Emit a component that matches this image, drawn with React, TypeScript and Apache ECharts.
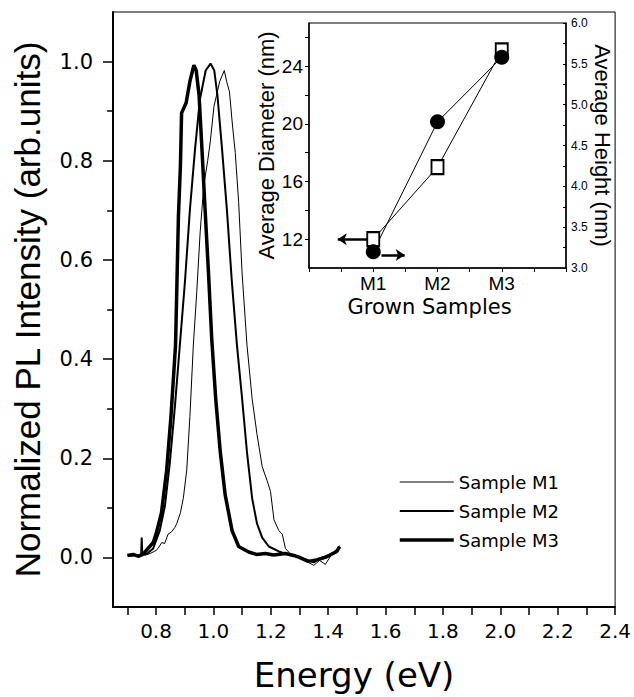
import React, { useEffect, useRef } from "react";
import * as echarts from "echarts";

// ---------- Data ----------
// Main PL spectra: [energy (eV), normalized intensity]
const sampleM1: [number, number][] = [
  [0.74, 0.002], [0.76, 0.004], [0.78, 0.008], [0.8, 0.014], [0.807, 0.018], [0.82, 0.03],
  [0.83, 0.028], [0.842, 0.047], [0.855, 0.052], [0.865, 0.06], [0.872, 0.068], [0.885, 0.09],
  [0.895, 0.119], [0.907, 0.176], [0.918, 0.284], [0.93, 0.428], [0.942, 0.536], [0.954, 0.658],
  [0.965, 0.74], [0.971, 0.767], [0.98, 0.8], [0.989, 0.838], [1.002, 0.91], [1.022, 0.96],
  [1.038, 0.982], [1.046, 0.96], [1.056, 0.939], [1.066, 0.874], [1.076, 0.817], [1.088, 0.716],
  [1.1, 0.572], [1.117, 0.428], [1.135, 0.32], [1.152, 0.248], [1.17, 0.183], [1.187, 0.155],
  [1.199, 0.133], [1.211, 0.076], [1.228, 0.054], [1.24, 0.047], [1.251, 0.018], [1.27, 0.006],
  [1.3, 0.002], [1.33, -0.01], [1.35, -0.016], [1.37, -0.006], [1.39, -0.014], [1.41, 0.004],
  [1.43, 0.014], [1.44, 0.024],
];
const sampleM2: [number, number][] = [
  [0.705, 0.003], [0.73, 0.005], [0.748, 0.004], [0.75, 0.04], [0.752, 0.006], [0.77, 0.008],
  [0.79, 0.018], [0.813, 0.054], [0.831, 0.104], [0.848, 0.19], [0.866, 0.306], [0.883, 0.428],
  [0.901, 0.558], [0.918, 0.701], [0.936, 0.824], [0.953, 0.924], [0.973, 0.982], [0.99, 0.996],
  [1.003, 0.982], [1.014, 0.932], [1.03, 0.824], [1.047, 0.701], [1.064, 0.558], [1.082, 0.428],
  [1.1, 0.32], [1.117, 0.212], [1.135, 0.119], [1.152, 0.068], [1.17, 0.04], [1.193, 0.022],
  [1.228, 0.012], [1.26, 0.006], [1.29, 0.002], [1.32, -0.004], [1.35, -0.01], [1.37, -0.002],
  [1.4, 0.004], [1.42, 0.01], [1.44, 0.02],
];
const sampleM3: [number, number][] = [
  [0.7, 0.004], [0.72, 0.006], [0.74, 0.002], [0.76, 0.01], [0.772, 0.018], [0.79, 0.03],
  [0.8, 0.047], [0.819, 0.09], [0.837, 0.176], [0.852, 0.284], [0.864, 0.392], [0.868, 0.428],
  [0.873, 0.558], [0.878, 0.687], [0.885, 0.79], [0.889, 0.896], [0.905, 0.917], [0.918, 0.96],
  [0.932, 0.993], [0.94, 0.982], [0.95, 0.932], [0.96, 0.824], [0.971, 0.701], [0.983, 0.572],
  [0.994, 0.442], [1.008, 0.32], [1.024, 0.212], [1.041, 0.126], [1.065, 0.054], [1.088, 0.022],
  [1.123, 0.011], [1.15, 0.006], [1.181, 0.008], [1.21, 0.005], [1.251, 0.008], [1.28, 0.004],
  [1.3, 0.0], [1.33, -0.008], [1.36, -0.005], [1.39, 0.0], [1.41, 0.006], [1.43, 0.012], [1.44, 0.022],
];

const seriesNames = ["Sample M1", "Sample M2", "Sample M3"];
const seriesWidths = [1, 2, 3.5];

// Tick labels of main chart
const xTickLabels = [0.8, 1.0, 1.2, 1.4, 1.6, 1.8, 2.0, 2.2, 2.4];
const xAllTicks = [0.7, 0.8, 0.9, 1.0, 1.1, 1.2, 1.3, 1.4, 1.5, 1.6, 1.7, 1.8, 1.9, 2.0, 2.1, 2.2, 2.3, 2.4];
const yTickLabels = [0.0, 0.2, 0.4, 0.6, 0.8, 1.0];
const yMinorTicks = [0.1, 0.3, 0.5, 0.7, 0.9];

// Inset data
const insetCategories = ["M1", "M2", "M3"];
const avgDiameter = [12.0, 17.0, 25.1]; // open squares, left axis (nm)
const avgHeight = [3.2, 4.79, 5.58]; // filled circles, right axis (nm)
const diameterTickLabels = [12, 16, 20, 24];
const diameterTicks = [12, 14, 16, 18, 20, 22, 24, 26];
// arrows: [x from, x to, y]
const diameterArrow = [0.914, 0.447, 12];
const heightArrow = [1.128, 1.49, 3.16];

const FONT = "'Liberation Sans', Arial, Helvetica, sans-serif";
const TRACK = "'DejaVu Sans', 'Liberation Sans', sans-serif";
const NARROW = "'Liberation Sans Narrow', 'Arial Narrow', 'Liberation Sans', sans-serif";
const BLACK = "#000";

const X_MIN = 0.65;
const X_MAX = 2.4;
const MAIN = { left: 113, right: 18, top: 12, bottom: 89 };
const W = 634;
const H = 697;
const MAIN_W = W - MAIN.left - MAIN.right;
const MAIN_H = H - MAIN.top - MAIN.bottom;

export default function App() {
  const ref = useRef<HTMLDivElement>(null);

  useEffect(() => {
    if (!ref.current) return;
    const chart = echarts.init(ref.current, undefined, { renderer: "svg" });

    const spectra = [sampleM1, sampleM2, sampleM3];

    const option: any = {
      animation: false,
      backgroundColor: "#fff",
      legend: {
        orient: "vertical",
        left: 393,
        top: 468,
        itemWidth: 54,
        itemHeight: 14,
        itemGap: 11,
        selectedMode: false,
        itemStyle: { color: "rgba(0,0,0,0)", borderWidth: 0, opacity: 0 },
        data: seriesNames.map((name, i) => ({
          name,
          lineStyle: { color: BLACK, width: seriesWidths[i] },
          itemStyle: { color: "rgba(0,0,0,0)", borderWidth: 0, opacity: 0 },
        })),
        textStyle: { fontFamily: TRACK, fontSize: 18, color: BLACK },
      },
      grid: [
        { ...MAIN, show: true, borderColor: BLACK, borderWidth: 1 },
        { left: 309, top: 23, width: 257, height: 245, show: true, borderColor: BLACK, borderWidth: 1 },
      ],
      xAxis: [
        {
          type: "value",
          gridIndex: 0,
          min: X_MIN,
          max: X_MAX,
          position: "bottom",
          axisLine: { onZero: false, lineStyle: { color: BLACK, width: 2 } },
          axisTick: { show: false },
          axisLabel: {
            customValues: xTickLabels,
            formatter: (v: number) => v.toFixed(1),
            margin: 14,
            fontSize: 20,
            fontFamily: TRACK,
            color: BLACK,
          },
          splitLine: { show: false },
          name: "Energy (eV)",
          nameLocation: "middle",
          nameGap: 51,
          nameTextStyle: { fontSize: 34, fontFamily: TRACK, color: BLACK, padding: [0, 20, 0, 0] },
        },
        {
          // all x ticks: top slot shifted onto the bottom line, ticks pointing down
          type: "value",
          gridIndex: 0,
          min: X_MIN,
          max: X_MAX,
          position: "top",
          offset: -MAIN_H,
          axisLine: { show: false, onZero: false },
          axisTick: { show: true, inside: true, customValues: xAllTicks, length: 7, lineStyle: { color: BLACK, width: 1.5 } },
          axisLabel: { show: false },
          splitLine: { show: false },
        },
        {
          type: "value",
          gridIndex: 1,
          min: 0,
          max: 4,
          interval: 0.5,
          position: "bottom",
          axisLine: { onZero: false, lineStyle: { color: BLACK, width: 1.5 } },
          axisTick: { length: 4, lineStyle: { color: BLACK, width: 1 } },
          axisLabel: {
            customValues: [1, 2, 3],
            formatter: (v: number) => insetCategories[Math.round(v) - 1] ?? "",
            margin: 6,
            fontSize: 19,
            fontFamily: NARROW,
            color: BLACK,
          },
          splitLine: { show: false },
          name: "Grown Samples",
          nameLocation: "middle",
          nameGap: 28,
          nameTextStyle: { fontSize: 21, fontFamily: TRACK, color: BLACK, padding: [0, 16, 0, 0] },
        },
      ],
      yAxis: [
        {
          type: "value",
          gridIndex: 0,
          min: -0.1,
          max: 1.1,
          position: "left",
          axisLine: { onZero: false, lineStyle: { color: BLACK, width: 2 } },
          axisTick: { customValues: yTickLabels, length: 10, lineStyle: { color: BLACK, width: 1.5 } },
          axisLabel: {
            customValues: yTickLabels,
            formatter: (v: number) => v.toFixed(1),
            margin: 20,
            fontSize: 21,
            fontFamily: TRACK,
            color: BLACK,
          },
          splitLine: { show: false },
          name: "Normalized PL Intensity (arb.units)",
          nameLocation: "middle",
          nameGap: 68,
          nameTextStyle: { fontSize: 35, fontFamily: FONT, color: BLACK },
        },
        {
          // minor ticks: right slot shifted onto the left line, pointing outward
          type: "value",
          gridIndex: 0,
          min: -0.1,
          max: 1.1,
          position: "right",
          offset: -MAIN_W,
          axisLine: { show: false, onZero: false },
          axisTick: { show: true, inside: true, customValues: yMinorTicks, length: 5, lineStyle: { color: BLACK, width: 1.5 } },
          axisLabel: { show: false },
          splitLine: { show: false },
        },
        {
          type: "value",
          gridIndex: 1,
          min: 10,
          max: 27,
          position: "left",
          axisLine: { onZero: false, lineStyle: { color: BLACK, width: 1.5 } },
          axisTick: { customValues: diameterTicks, length: 4, lineStyle: { color: BLACK, width: 1 } },
          axisLabel: {
            customValues: diameterTickLabels,
            margin: 6,
            fontSize: 19,
            fontFamily: NARROW,
            color: BLACK,
          },
          splitLine: { show: false },
          name: "Average Diameter (nm)",
          nameLocation: "middle",
          nameGap: 13,
          nameTextStyle: { fontSize: 22, fontFamily: FONT, color: BLACK },
        },
        {
          type: "value",
          gridIndex: 1,
          min: 3,
          max: 6,
          interval: 0.5,
          position: "right",
          axisLine: { onZero: false, lineStyle: { color: BLACK, width: 1.5 } },
          axisTick: { inside: true, length: 3, lineStyle: { color: BLACK, width: 1 } },
          minorTick: { show: true, splitNumber: 2, length: 3, lineStyle: { color: BLACK, width: 1 } },
          axisLabel: {
            formatter: (v: number) => v.toFixed(1),
            margin: 5,
            fontSize: 12,
            fontFamily: FONT,
            color: BLACK,
          },
          splitLine: { show: false },
          name: "Average Height (nm)",
          nameLocation: "middle",
          nameRotate: -90,
          nameGap: 20,
          nameTextStyle: { fontSize: 22, fontFamily: FONT, color: BLACK },
        },
      ],
      series: [
        ...spectra.map((data, i) => ({
          type: "line",
          name: seriesNames[i],
          xAxisIndex: 0,
          yAxisIndex: 0,
          data,
          symbol: "none",
          lineStyle: { color: BLACK, width: seriesWidths[i] },
          itemStyle: { color: BLACK },
        })),
        {
          type: "line",
          name: "Average Diameter",
          xAxisIndex: 2,
          yAxisIndex: 2,
          data: insetCategories.map((_, i) => [i + 1, avgDiameter[i]]),
          symbol: "rect",
          symbolSize: [12, 14],
          itemStyle: { color: "#fff", borderColor: BLACK, borderWidth: 2 },
          lineStyle: { color: BLACK, width: 1 },
          markLine: {
            silent: true,
            symbol: ["none", "arrow"],
            symbolSize: 9,
            label: { show: false },
            lineStyle: { color: BLACK, width: 2.5, type: "solid" },
            emphasis: { disabled: true },
            data: [[{ coord: [diameterArrow[0], diameterArrow[2]] }, { coord: [diameterArrow[1], diameterArrow[2]] }]],
          },
        },
        {
          type: "line",
          name: "Average Height",
          xAxisIndex: 2,
          yAxisIndex: 3,
          data: insetCategories.map((_, i) => [i + 1, avgHeight[i]]),
          symbol: "circle",
          symbolSize: 15,
          itemStyle: { color: BLACK },
          lineStyle: { color: BLACK, width: 1 },
          z: 3,
          markLine: {
            silent: true,
            symbol: ["none", "arrow"],
            symbolSize: 9,
            label: { show: false },
            lineStyle: { color: BLACK, width: 2.5, type: "solid" },
            emphasis: { disabled: true },
            data: [[{ coord: [heightArrow[0], heightArrow[2]] }, { coord: [heightArrow[1], heightArrow[2]] }]],
          },
        },
      ],
    };

    chart.setOption(option);
    return () => chart.dispose();
  }, []);

  return (
    <div
      ref={ref}
      style={{ position: "fixed", left: 0, top: 0, width: W, height: H, background: "#fff" }}
    />
  );
}
